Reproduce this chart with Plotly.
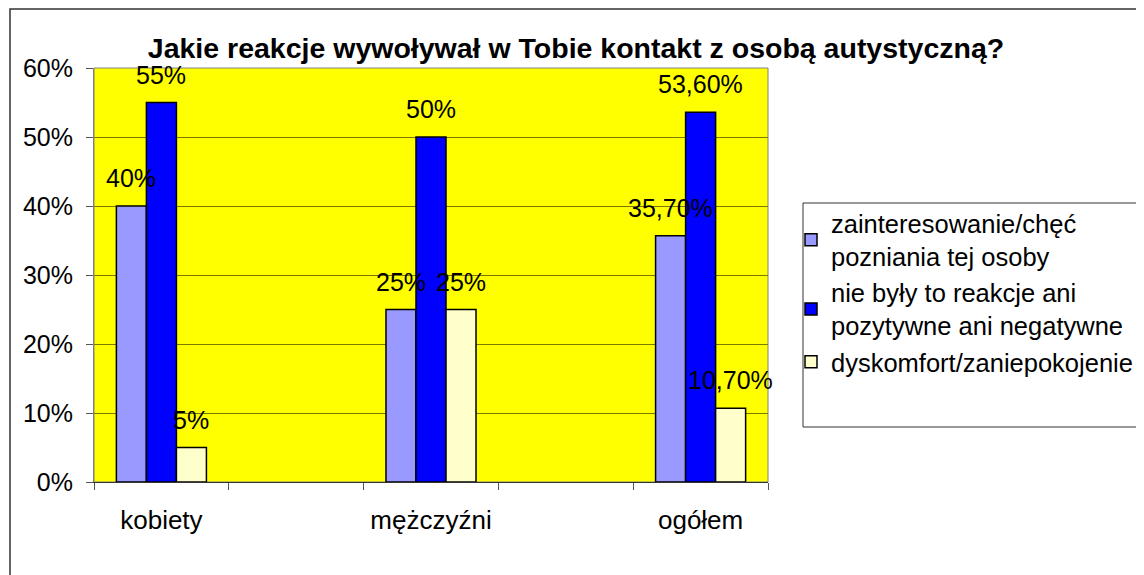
import plotly.graph_objects as go

categories = ["kobiety", " ", "mężczyźni", "  ", "ogółem"]
data_categories = ["kobiety", "mężczyźni", "ogółem"]
series_names = [
    "zainteresowanie/chęć<br>pozniania tej osoby",
    "nie były to reakcje ani<br>pozytywne ani negatywne",
    "dyskomfort/zaniepokojenie",
]
values_zainteresowanie = [0.40, 0.25, 0.357]
values_neutralne = [0.55, 0.50, 0.536]
values_dyskomfort = [0.05, 0.25, 0.107]
labels_zainteresowanie = ["40%", "25%", "35,70%"]
labels_neutralne = ["55%", "50%", "53,60%"]
labels_dyskomfort = ["5%", "25%", "10,70%"]
colors = ["#9999FF", "#0000FF", "#FFFFCC"]
y_tickvals = [0, 0.1, 0.2, 0.3, 0.4, 0.5, 0.6]
y_ticktext = ["0%", "10%", "20%", "30%", "40%", "50%", "60%"]

FONT = "Arial, Liberation Sans, sans-serif"
BARGAP = 0.332

fig = go.Figure()
all_vals = [values_zainteresowanie, values_neutralne, values_dyskomfort]
all_labels = [labels_zainteresowanie, labels_neutralne, labels_dyskomfort]
for name, vals, col in zip(series_names, all_vals, colors):
    fig.add_trace(go.Bar(
        x=data_categories, y=vals, name=name,
        marker=dict(color=col, line=dict(color="black", width=1.5)),
    ))

annotations = []
grp = 1 - BARGAP
for i, (vals, labs) in enumerate(zip(all_vals, all_labels)):
    for cat, v, lab in zip(data_categories, vals, labs):
        idx = categories.index(cat)
        annotations.append(dict(
            x=idx + (i - 1) * grp / 3, y=v, xref="x", yref="y",
            text=lab, showarrow=False, yshift=28, yanchor="middle",
            font=dict(family=FONT, size=25, color="black"),
        ))

# figure is placed at an 8px page offset (body margin)
W, H = 1136, 567
L, T = 86, 60
pw, ph = 674, 414
R, B = W - L - pw, H - T - ph


def px_x(x):
    return (x - L) / pw


def px_y(y):
    return 1 - (y - T) / ph


fig.update_layout(
    width=W, height=H,
    margin=dict(l=L, r=R, t=T, b=B, autoexpand=False),
    paper_bgcolor="white",
    plot_bgcolor="#FFFF00",
    barmode="group", bargap=BARGAP, bargroupgap=0,
    font=dict(family=FONT, size=25, color="black"),
    title=dict(
        text="<b>Jakie reakcje wywoływał w Tobie kontakt z osobą autystyczną?</b>",
        x=(576 - 8) / W, xref="container", xanchor="center",
        y=1 - 40 / H, yref="container", yanchor="middle",
        font=dict(family=FONT, size=28.5, color="black"),
    ),
    xaxis=dict(
        type="category", categoryorder="array", categoryarray=categories,
        range=[-0.5, 4.5], tickson="boundaries", ticks="outside", ticklen=7,
        tickcolor="#555", showline=True, linecolor="#333", linewidth=1,
        showgrid=False, ticklabelstandoff=15, tickangle=0,
        tickfont=dict(family=FONT, size=26, color="black"),
    ),
    yaxis=dict(
        range=[0, 0.6], tickvals=y_tickvals, ticktext=y_ticktext,
        ticks="outside", ticklen=7, tickcolor="#555",
        showline=True, linecolor="#808080", linewidth=1,
        showgrid=True, gridcolor="#7a7a00", gridwidth=1,
        zeroline=False, ticklabelstandoff=8,
        tickfont=dict(family=FONT, size=25, color="black"),
    ),
    legend=dict(
        x=px_x(783), y=px_y(192), xanchor="left", yanchor="top",
        bgcolor="rgba(0,0,0,0)", borderwidth=0,
        font=dict(family=FONT, size=25.5, color="black"),
        itemwidth=30, traceorder="normal",
    ),
    annotations=annotations,
    showlegend=True,
)

# outer chart border
fig.add_shape(
    type="rect", xref="paper", yref="paper", layer="below",
    x0=px_x(2), x1=px_x(W + 20), y0=px_y(H + 20), y1=px_y(1),
    line=dict(color="#333", width=1.5), fillcolor="rgba(0,0,0,0)",
)
# legend box
fig.add_shape(
    type="rect", xref="paper", yref="paper", layer="below",
    x0=px_x(795), x1=px_x(W + 20), y0=px_y(419), y1=px_y(195),
    line=dict(color="#333", width=1), fillcolor="white",
)
# plot area border
fig.add_shape(
    type="rect", xref="paper", yref="paper", x0=0, x1=1, y0=0, y1=1,
    line=dict(color="#808080", width=1), layer="below",
)

fig.write_html("out.html")
